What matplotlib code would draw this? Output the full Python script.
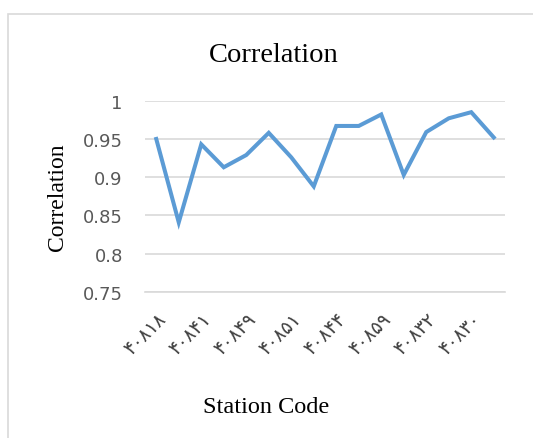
import matplotlib.pyplot as plt
from matplotlib.patches import Rectangle

# station codes shown on every other category (Persian digits)
tick_labels = ["۴۰۸۱۸", "۴۰۸۴۱", "۴۰۸۴۹", "۴۰۸۵۱", "۴۰۸۴۴", "۴۰۸۵۹", "۴۰۸۳۲", "۴۰۸۳۰"]
tick_pos = [0, 2, 4, 6, 8, 10, 12, 14]
corr = [0.950, 0.841, 0.943, 0.913, 0.929, 0.958, 0.926, 0.888,
        0.967, 0.967, 0.982, 0.903, 0.959, 0.977, 0.985, 0.952]

fig = plt.figure(figsize=(5.33, 4.39), dpi=100)
fig.patches.append(Rectangle((8 / 533, -0.1), 1.2, 1 - 15 / 439 + 0.1,
                             transform=fig.transFigure, fill=False,
                             edgecolor="#d9d9d9", linewidth=1.2))

ax = fig.add_axes([145 / 533, 1 - 293 / 439, 360 / 533, 191.3 / 439])
ax.plot(range(len(corr)), corr, color="#5b9bd5", linewidth=2.9,
        solid_joinstyle="miter")
ax.set_xlim(-0.5, len(corr) - 0.5)
ax.set_ylim(0.75, 1.0)
ax.set_yticks([0.75, 0.8, 0.85, 0.9, 0.95, 1.0])
ax.set_yticklabels(["0.75", "0.8", "0.85", "0.9", "0.95", "1"],
                   fontsize=13, color="#595959", family="DejaVu Sans")
ax.set_xticks(tick_pos)
ax.set_xticklabels(tick_labels, rotation=45, ha="right", va="top",
                   rotation_mode="anchor", fontsize=13.5, color="#404040",
                   family="DejaVu Sans")
ax.tick_params(axis="y", length=0, pad=16)
ax.tick_params(axis="x", length=0, pad=12)
ax.grid(axis="y", color="#d9d9d9", linewidth=1.2)
ax.set_axisbelow(True)
for s in ["top", "right", "left"]:
    ax.spines[s].set_visible(False)
ax.spines["bottom"].set_color("#d9d9d9")
ax.spines["bottom"].set_linewidth(1.2)

fig.text(274 / 533, 1 - 62 / 439, "Correlation", ha="center", va="baseline",
         fontsize=20.5, family="Liberation Serif")
fig.text(58 / 533, 1 - 197.5 / 439, "Correlation", ha="center", va="center",
         rotation=90, fontsize=17, family="Liberation Serif")
fig.text(266 / 533, 1 - 413 / 439, "Station Code", ha="center", va="baseline",
         fontsize=17.5, family="Liberation Serif")

fig.savefig("out.png", dpi=100)
